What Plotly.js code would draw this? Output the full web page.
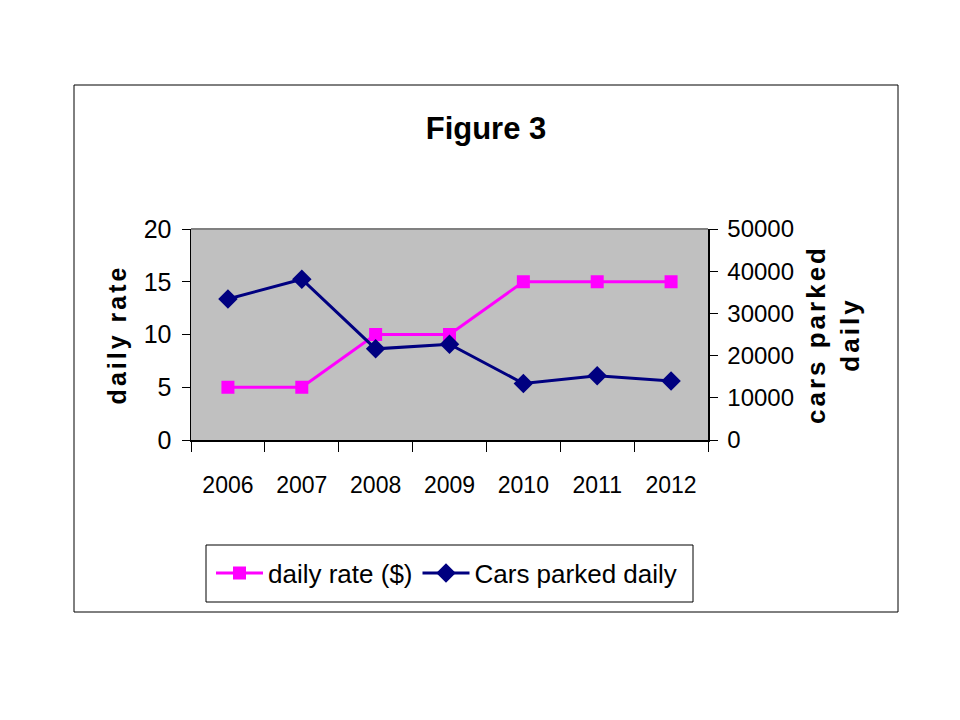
<!DOCTYPE html>
<html><head><meta charset="utf-8">
<script src="https://cdn.plot.ly/plotly-3.0.1.min.js"></script>
<style>body{margin:0;background:#fff}#chart{width:960px;height:720px}</style>
</head><body><div id="chart"></div>
<script>
const years = ['2006','2007','2008','2009','2010','2011','2012'];
const dailyRate = [5, 5, 10, 10, 15, 15, 15];
const carsParked = [33400, 38100, 21600, 22700, 13400, 15200, 14000];
const rateTicks = [0, 5, 10, 15, 20];
const carTicks = [0, 10000, 20000, 30000, 40000, 50000];

const FONT = 'Arial, "Liberation Sans", sans-serif';
const traces = [
  {x: years, y: dailyRate, name: 'daily rate ($)', type: 'scatter', mode: 'lines+markers',
   line: {color: '#FF00FF', width: 3}, marker: {symbol: 'square', size: 13, color: '#FF00FF'}},
  {x: years, y: carsParked, name: 'Cars parked daily', type: 'scatter', mode: 'lines+markers', yaxis: 'y2',
   line: {color: '#000080', width: 3}, marker: {symbol: 'diamond', size: 15, color: '#000080'}}
];
const L = 191, R = 708, T = 229, B = 440;
const pw = R - L, ph = B - T;
const px2x = v => (v - L) / pw;
const px2y = v => (B - v) / ph;
const sp = s => '<span style="letter-spacing:3px"><b>' + s + '</b></span>';
const layout = {
  width: 960, height: 720,
  margin: {l: L, r: 960 - R, t: T, b: 720 - B, pad: 0},
  paper_bgcolor: '#ffffff', plot_bgcolor: '#C0C0C0',
  font: {family: FONT, color: '#000', size: 24},
  title: {text: '<b>Figure 3</b>', x: 486/960, xanchor: 'center', y: 1 - 128/720, yanchor: 'middle',
          font: {family: FONT, size: 31, color: '#000'}},
  showlegend: true,
  legend: {orientation: 'h', x: px2x(211), xanchor: 'left', y: px2y(573), yanchor: 'middle',
           borderwidth: 0, bgcolor: 'rgba(0,0,0,0)',
           font: {family: FONT, size: 26, color: '#000'}, itemwidth: 47, tracegroupgap: 0},
  xaxis: {type: 'category', range: [-0.5, 6.5], showgrid: false, zeroline: false,
          showline: true, linecolor: '#000', linewidth: 1.5, tickangle: 0,
          ticks: 'outside', tickson: 'boundaries', ticklen: 10, tickcolor: '#000', tickwidth: 1,
          ticklabelstandoff: 24, tickfont: {family: FONT, size: 23, color: '#000'}},
  yaxis: {range: [0, 20], tickvals: rateTicks, showgrid: false, zeroline: false,
          showline: true, linecolor: '#000', linewidth: 1.5,
          ticks: 'outside', ticklen: 8, tickcolor: '#000', ticklabelstandoff: 5,
          tickfont: {family: FONT, size: 25, color: '#000'},
          title: {text: sp('daily rate'), standoff: 10, font: {family: FONT, size: 25, color: '#000'}}},
  yaxis2: {overlaying: 'y', side: 'right', range: [0, 50000], tickvals: carTicks,
           ticktext: carTicks.map(String), showgrid: false, zeroline: false,
           showline: true, linecolor: '#000', linewidth: 1.5,
           ticks: 'outside', ticklen: 8, tickcolor: '#000', ticklabelstandoff: 5,
           tickfont: {family: FONT, size: 24, color: '#000'},
           title: {text: sp('cars parked') + '<br>' + sp('daily'), standoff: 14, font: {family: FONT, size: 26, color: '#000'}}},
  shapes: [
    {type: 'line', xref: 'paper', yref: 'paper', x0: 0, x1: 1, y0: 1, y1: 1, line: {color: '#808080', width: 2}},
    {type: 'rect', xref: 'paper', yref: 'paper', x0: px2x(74), x1: px2x(898), y0: px2y(612), y1: px2y(85),
     line: {color: '#000', width: 1}, fillcolor: 'rgba(0,0,0,0)'},
    {type: 'rect', xref: 'paper', yref: 'paper', x0: px2x(206), x1: px2x(693), y0: px2y(602), y1: px2y(545),
     line: {color: '#000', width: 1}, fillcolor: 'rgba(0,0,0,0)'}
  ]
};
Plotly.newPlot('chart', traces, layout, {displayModeBar: false, staticPlot: true});
</script></body></html>
